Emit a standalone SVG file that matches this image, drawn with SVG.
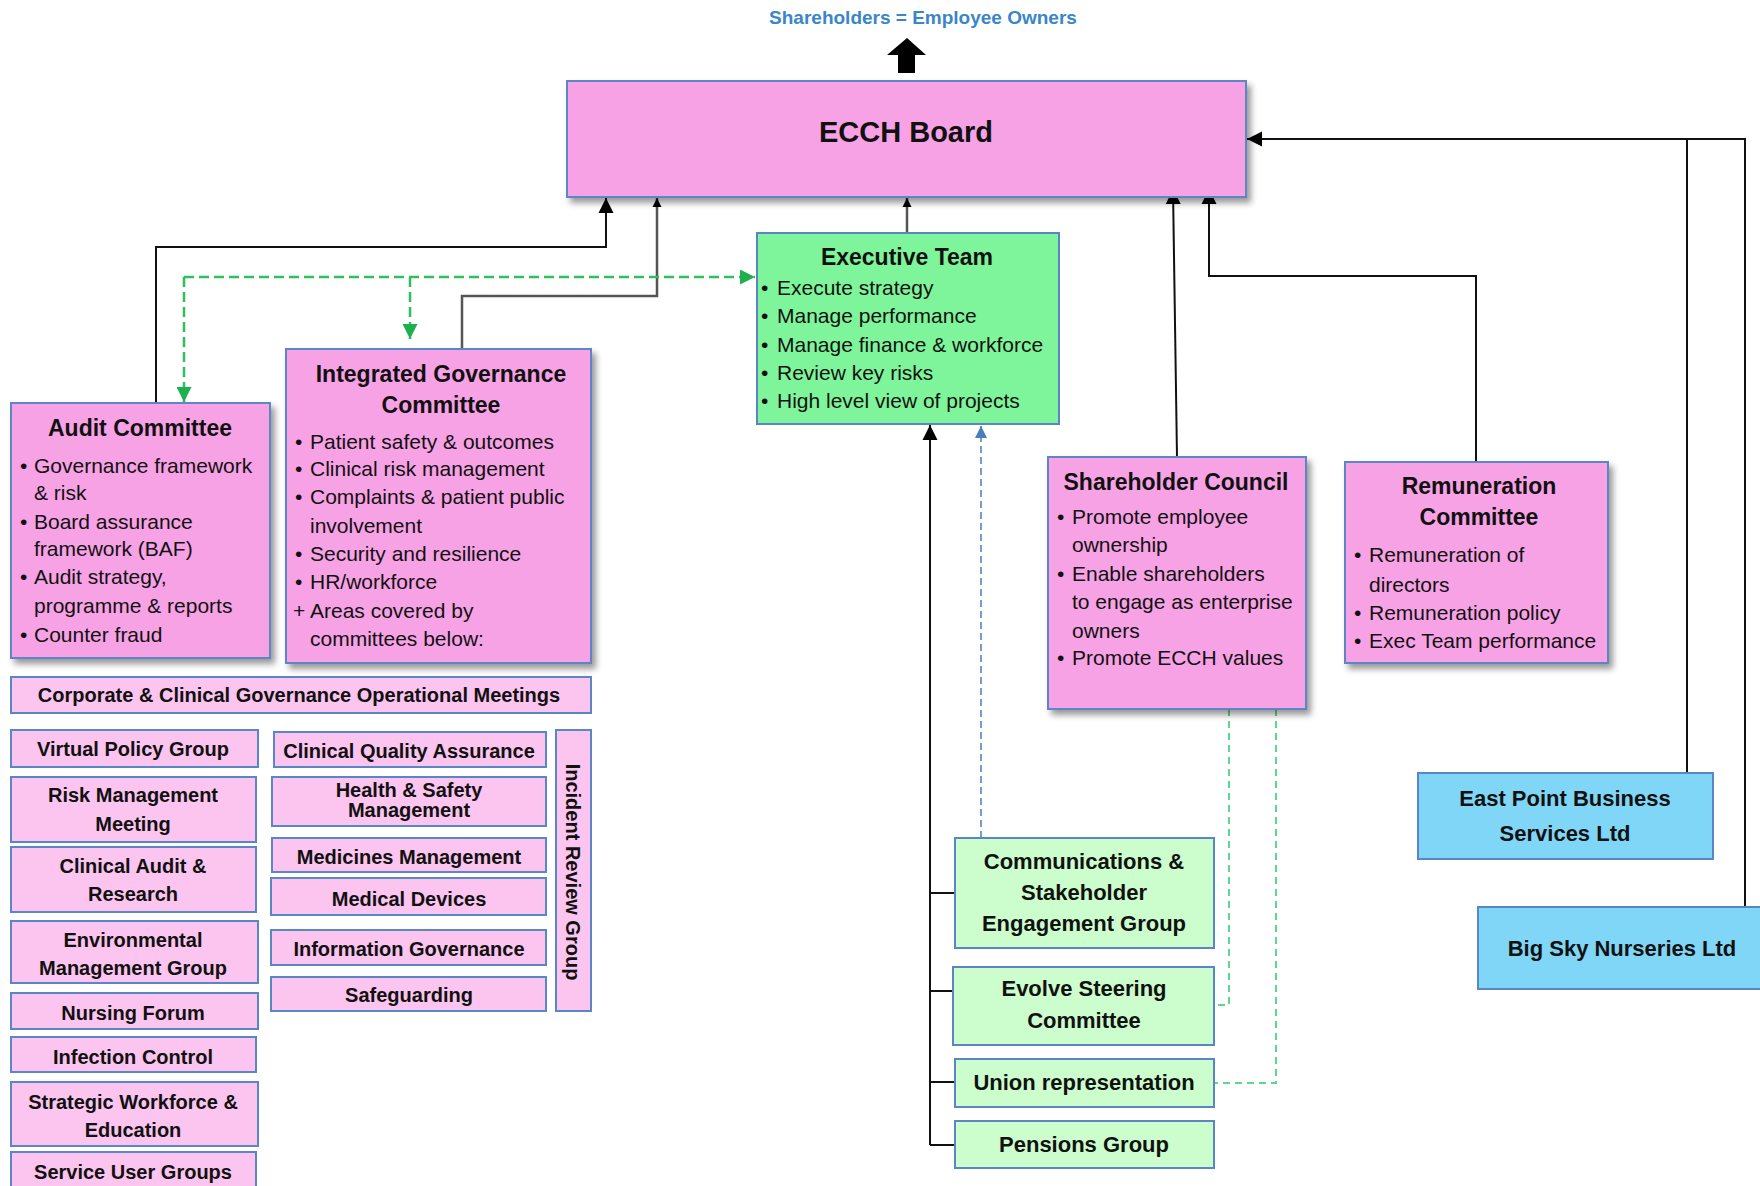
<svg xmlns="http://www.w3.org/2000/svg" width="1760" height="1186" viewBox="0 0 1760 1186">
<defs>
<style>
text{font-family:"Liberation Sans",Arial,sans-serif;fill:#111}
.pk{fill:#f8a2e6;stroke:#5b86c5;stroke-width:2}
.lp{fill:#fbc5f0;stroke:#5b86c5;stroke-width:2}
.gr{fill:#7ef59a;stroke:#5b86c5;stroke-width:2}
.lg{fill:#ccfdcc;stroke:#5b86c5;stroke-width:2}
.bl{fill:#80d6f6;stroke:#5b86c5;stroke-width:2}
.sh{filter:url(#sh)}
.h{font-weight:bold;font-size:23px;text-anchor:middle}
.b{font-size:21px}
.m{font-weight:bold;font-size:20px;text-anchor:middle}
.g{font-weight:bold;font-size:22px;text-anchor:middle}
.ln{fill:none;stroke:#111;stroke-width:2}
.lg2{fill:none;stroke:#555;stroke-width:2.5}
.gd{fill:none;stroke:#2fbf5f;stroke-width:2.5;stroke-dasharray:10 5}
.gd2{fill:none;stroke:#5ed88e;stroke-width:2;stroke-dasharray:7 5}
.bd{fill:none;stroke:#4a7ebb;stroke-width:1.5;stroke-dasharray:7 4}
</style>
<filter id="sh" x="-5%" y="-5%" width="115%" height="120%"><feDropShadow dx="4" dy="5" stdDeviation="3" flood-color="#000" flood-opacity="0.4"/></filter>
<marker id="ab" viewBox="0 0 10 10" refX="10" refY="5" markerWidth="15" markerHeight="25" markerUnits="userSpaceOnUse" orient="auto"><path d="M0,0 L10,5 L0,10 z" fill="#000"/></marker>
<marker id="as" viewBox="0 0 10 10" refX="10" refY="5" markerWidth="9" markerHeight="14" markerUnits="userSpaceOnUse" orient="auto"><path d="M0,0 L10,5 L0,10 z" fill="#000"/></marker>
<marker id="ag" viewBox="0 0 10 10" refX="10" refY="5" markerWidth="16" markerHeight="15" markerUnits="userSpaceOnUse" orient="auto"><path d="M0,0 L10,5 L0,10 z" fill="#1fb04e"/></marker>
<marker id="abl" viewBox="0 0 10 10" refX="10" refY="5" markerWidth="12" markerHeight="13" markerUnits="userSpaceOnUse" orient="auto"><path d="M0,0 L10,5 L0,10 z" fill="#4a7ebb"/></marker>
</defs>
<rect width="1760" height="1186" fill="#fff"/>

<g id="shareholders">
<text x="923" y="24" font-size="19" font-weight="bold" text-anchor="middle" style="fill:#3a86c8">Shareholders = Employee Owners</text>
<path d="M907,38 L926,55 L915,55 L915,73 L898,73 L898,55 L887,55 Z" fill="#000"/>
</g>

<g id="connectors">
<path class="ln" d="M156,403 V247 H606 V198" marker-end="url(#ab)"/>
<path class="lg2" d="M462,349 V296 H657 V198" marker-end="url(#as)"/>
<path class="lg2" d="M907,233 V198" marker-end="url(#as)"/>
<path class="ln" d="M1177,457 L1173,189" marker-end="url(#ab)"/>
<path class="ln" d="M1476,462 V276 H1209 V189" marker-end="url(#ab)"/>
<path class="ln" d="M1745,907 V139 H1247" marker-end="url(#ab)"/>
<path class="ln" d="M1687,773 V139"/>
<path class="ln" d="M930,1145 V425" marker-end="url(#ab)"/>
<path class="ln" d="M930,893 H955 M930,991 H953 M930,1082 H955 M930,1145 H955"/>
<path class="bd" d="M981,838 V426" marker-end="url(#abl)"/>
<path class="gd" d="M184,277 V402" marker-end="url(#ag)"/>
<path class="gd" d="M184,277 H755" marker-end="url(#ag)"/>
<path class="gd" d="M410,277 V339" marker-end="url(#ag)"/>
<path class="gd2" d="M1229,709 V1005 H1214"/>
<path class="gd2" d="M1276,709 V1083 H1214"/>
</g>

<g id="board">
<rect class="pk sh" x="567" y="81" width="679" height="116"/>
<text x="906" y="142" font-size="29" font-weight="bold" text-anchor="middle">ECCH Board</text>
</g>

<g id="exec">
<rect class="gr" x="757" y="233" width="302" height="191"/>
<text class="h" x="907" y="265">Executive Team</text>
<text x="761" y="295" class="b">•</text><text x="777" y="295" class="b">Execute strategy</text>
<text x="761" y="323" class="b">•</text><text x="777" y="323" class="b">Manage performance</text>
<text x="761" y="352" class="b">•</text><text x="777" y="352" class="b">Manage finance &amp; workforce</text>
<text x="761" y="380" class="b">•</text><text x="777" y="380" class="b">Review key risks</text>
<text x="761" y="408" class="b">•</text><text x="777" y="408" class="b">High level view of  projects</text>
</g>

<g id="audit">
<rect class="pk sh" x="11" y="403" width="259" height="255"/>
<text class="h" x="140" y="436">Audit Committee</text>
<text x="20" y="473" class="b">•</text><text x="34" y="473" class="b">Governance framework</text>
<text x="34" y="500" class="b">&amp; risk</text>
<text x="20" y="529" class="b">•</text><text x="34" y="529" class="b">Board assurance</text>
<text x="34" y="556" class="b">framework (BAF)</text>
<text x="20" y="584" class="b">•</text><text x="34" y="584" class="b">Audit strategy,</text>
<text x="34" y="613" class="b">programme &amp; reports</text>
<text x="20" y="642" class="b">•</text><text x="34" y="642" class="b">Counter fraud</text>
</g>

<g id="igc">
<rect class="pk sh" x="286" y="349" width="305" height="314"/>
<text class="h" x="441" y="382">Integrated Governance</text>
<text class="h" x="441" y="413">Committee</text>
<text x="295" y="449" class="b">•</text><text x="310" y="449" class="b">Patient safety &amp; outcomes</text>
<text x="295" y="476" class="b">•</text><text x="310" y="476" class="b">Clinical risk management</text>
<text x="295" y="504" class="b">•</text><text x="310" y="504" class="b">Complaints &amp; patient public</text>
<text x="310" y="533" class="b">involvement</text>
<text x="295" y="561" class="b">•</text><text x="310" y="561" class="b">Security and resilience</text>
<text x="295" y="589" class="b">•</text><text x="310" y="589" class="b">HR/workforce</text>
<text x="293" y="618" class="b">+</text><text x="310" y="618" class="b">Areas  covered by</text>
<text x="310" y="646" class="b">committees below:</text>
</g>

<g id="shareholder-council">
<rect class="pk sh" x="1048" y="457" width="258" height="252"/>
<text class="h" x="1176" y="490">Shareholder Council</text>
<text x="1057" y="524" class="b">•</text><text x="1072" y="524" class="b">Promote employee</text>
<text x="1072" y="552" class="b">ownership</text>
<text x="1057" y="581" class="b">•</text><text x="1072" y="581" class="b">Enable  shareholders</text>
<text x="1072" y="609" class="b">to engage as enterprise</text>
<text x="1072" y="638" class="b">owners</text>
<text x="1057" y="665" class="b">•</text><text x="1072" y="665" class="b">Promote ECCH values</text>
</g>

<g id="remuneration">
<rect class="pk sh" x="1345" y="462" width="263" height="201"/>
<text class="h" x="1479" y="494">Remuneration</text>
<text class="h" x="1479" y="525">Committee</text>
<text x="1354" y="562" class="b">•</text><text x="1369" y="562" class="b">Remuneration of</text>
<text x="1369" y="592" class="b">directors</text>
<text x="1354" y="620" class="b">•</text><text x="1369" y="620" class="b">Remuneration policy</text>
<text x="1354" y="648" class="b">•</text><text x="1369" y="648" class="b">Exec Team performance</text>
</g>

<g id="operational">
<rect class="lp" x="11" y="677" width="580" height="36"/>
<text class="m" x="299" y="702">Corporate &amp; Clinical Governance Operational Meetings</text>
</g>

<g id="virtual-policy"><rect class="lp" x="11" y="730" width="247" height="37"/><text class="m" x="133" y="756">Virtual Policy Group</text></g>
<g id="risk-mgmt"><rect class="lp" x="11" y="777" width="245" height="65"/><text class="m" x="133" y="802">Risk Management</text><text class="m" x="133" y="831">Meeting</text></g>
<g id="clinical-audit"><rect class="lp" x="11" y="847" width="245" height="65"/><text class="m" x="133" y="873">Clinical  Audit &amp;</text><text class="m" x="133" y="901">Research</text></g>
<g id="environmental"><rect class="lp" x="11" y="921" width="247" height="62"/><text class="m" x="133" y="947">Environmental</text><text class="m" x="133" y="975">Management Group</text></g>
<g id="nursing"><rect class="lp" x="11" y="993" width="247" height="36"/><text class="m" x="133" y="1020">Nursing Forum</text></g>
<g id="infection"><rect class="lp" x="11" y="1037" width="245" height="35"/><text class="m" x="133" y="1064">Infection Control</text></g>
<g id="workforce"><rect class="lp" x="11" y="1082" width="247" height="64"/><text class="m" x="133" y="1109">Strategic Workforce &amp;</text><text class="m" x="133" y="1137">Education</text></g>
<g id="service-user"><rect class="lp" x="11" y="1152" width="245" height="42"/><text class="m" x="133" y="1179">Service User Groups</text></g>

<g id="cqa"><rect class="lp" x="274" y="732" width="272" height="35"/><text class="m" x="409" y="758">Clinical  Quality Assurance</text></g>
<g id="hs"><rect class="lp" x="272" y="777" width="274" height="49"/><text class="m" x="409" y="797">Health &amp; Safety</text><text class="m" x="409" y="817">Management</text></g>
<g id="medicines"><rect class="lp" x="272" y="838" width="274" height="34"/><text class="m" x="409" y="864">Medicines Management</text></g>
<g id="devices"><rect class="lp" x="271" y="878" width="275" height="37"/><text class="m" x="409" y="906">Medical Devices</text></g>
<g id="info-gov"><rect class="lp" x="271" y="930" width="275" height="35"/><text class="m" x="409" y="956">Information Governance</text></g>
<g id="safeguarding"><rect class="lp" x="271" y="977" width="275" height="34"/><text class="m" x="409" y="1002">Safeguarding</text></g>
<g id="incident"><rect class="lp" x="556" y="730" width="35" height="281"/><text class="m" transform="translate(573,872) rotate(90)" x="0" y="7">Incident Review Group</text></g>

<g id="comms"><rect class="lg" x="955" y="838" width="259" height="110"/><text class="g" x="1084" y="869">Communications &amp;</text><text class="g" x="1084" y="900">Stakeholder</text><text class="g" x="1084" y="931">Engagement Group</text></g>
<g id="evolve"><rect class="lg" x="953" y="967" width="261" height="78"/><text class="g" x="1084" y="996">Evolve Steering</text><text class="g" x="1084" y="1028">Committee</text></g>
<g id="union"><rect class="lg" x="955" y="1059" width="259" height="48"/><text class="g" x="1084" y="1090">Union representation</text></g>
<g id="pensions"><rect class="lg" x="955" y="1121" width="259" height="47"/><text class="g" x="1084" y="1152">Pensions Group</text></g>

<g id="east-point"><rect class="bl" x="1418" y="773" width="295" height="86"/><text class="g" x="1565" y="806">East Point Business</text><text class="g" x="1565" y="841">Services Ltd</text></g>
<g id="big-sky"><rect class="bl" x="1478" y="907" width="290" height="82"/><text class="g" x="1622" y="956">Big Sky Nurseries Ltd</text></g>
</svg>
